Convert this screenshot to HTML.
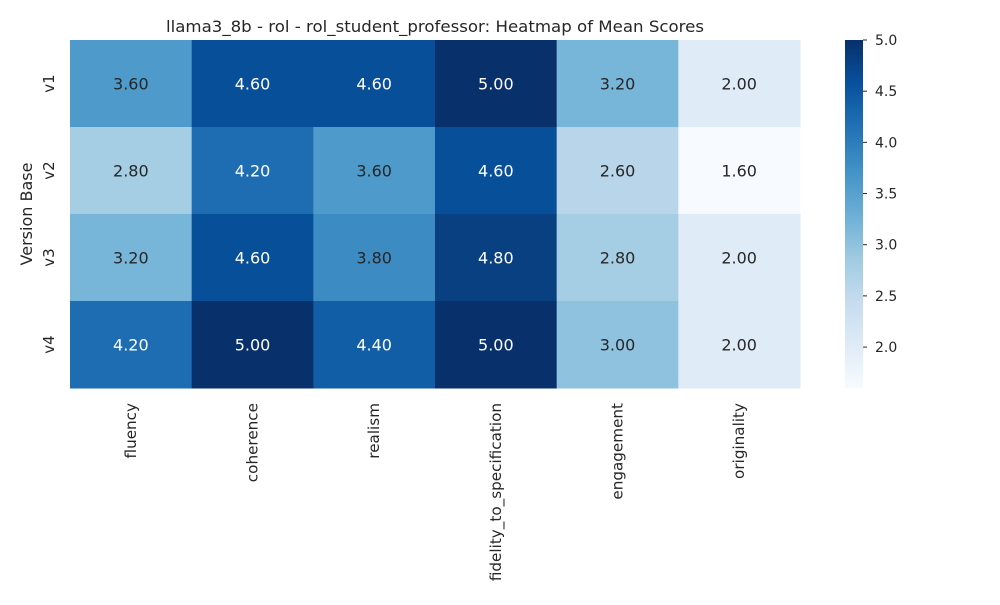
<!DOCTYPE html>
<html><head><meta charset="utf-8"><style>
body{margin:0;background:#fff;}
svg text{font-family:"DejaVu Sans","Liberation Sans",sans-serif;}
</style></head><body>
<svg id="chart" width="1000" height="600" xmlns="http://www.w3.org/2000/svg">
<defs><linearGradient id="cbg" x1="0" y1="1" x2="0" y2="0"></linearGradient></defs>
<text x="435" y="32" font-size="16" text-anchor="middle" fill="#262626" textLength="538" lengthAdjust="spacingAndGlyphs">llama3_8b - rol - rol_student_professor: Heatmap of Mean Scores</text>
<text transform="translate(32,214) rotate(-90)" font-size="16" text-anchor="middle" fill="#262626">Version Base</text>
<g id="cells"></g><g id="labels"></g><g id="cb"></g>
</svg>
<script>
const columns=["fluency","coherence","realism","fidelity_to_specification","engagement","originality"];
const rows=["v1","v2","v3","v4"];
const v1Values=[3.6,4.6,4.6,5.0,3.2,2.0];
const v2Values=[2.8,4.2,3.6,4.6,2.6,1.6];
const v3Values=[3.2,4.6,3.8,4.8,2.8,2.0];
const v4Values=[4.2,5.0,4.4,5.0,3.0,2.0];
const cbTicks=[2.0,2.5,3.0,3.5,4.0,4.5,5.0];
const values=[v1Values,v2Values,v3Values,v4Values];
const vmin=1.6,vmax=5.0;
const stops=["#f7fbff","#deebf7","#c6dbef","#9ecae1","#6baed6","#4292c6","#2171b5","#08519c","#08306b"];
function hex(h){return [1,3,5].map(i=>parseInt(h.substr(i,2),16));}
function cmap(v){let t=Math.max(0,Math.min(1,(v-vmin)/(vmax-vmin)))*8;let i=Math.min(7,Math.floor(t)),f=t-i;
const a=hex(stops[i]),b=hex(stops[i+1]);return a.map((c,k)=>Math.round(c+(b[k]-c)*f));}
const X0=70,X1=800,Y0=40,Y1=388;
const cw=(X1-X0)/columns.length,rh=(Y1-Y0)/rows.length;
const xS=i=>X0+i*cw,yS=j=>Y0+j*rh;
const NS="http://www.w3.org/2000/svg";
const cells=document.getElementById('cells'),labels=document.getElementById('labels'),cb=document.getElementById('cb');
function mk(t,a,p){const e=document.createElementNS(NS,t);for(const k in a)e.setAttribute(k,a[k]);p.appendChild(e);return e;}
rows.forEach((r,j)=>{columns.forEach((c,i)=>{const v=values[j][i];const col=cmap(v);
const rc=mk('rect',{x:xS(i),y:yS(j),width:cw+0.5,height:rh+0.5,fill:`rgb(${col})`},cells);


const lum=(0.2126*col[0]+0.7152*col[1]+0.0722*col[2])/255;
const t=mk('text',{x:xS(i)+cw/2,y:yS(j)+rh/2+6,'font-size':16,'text-anchor':'middle',fill:lum>0.408?'#262626':'#ffffff'},cells);
t.textContent=v.toFixed(2);

});
const yl=mk('text',{transform:`translate(54,${yS(j)+rh/2}) rotate(-90)`,'font-size':15,'text-anchor':'middle',fill:'#262626'},labels);
yl.textContent=r;

});
columns.forEach((c,i)=>{const xl=mk('text',{transform:`translate(${xS(i)+cw/2+5},403) rotate(-90)`,'font-size':15.2,'text-anchor':'end',fill:'#262626'},labels);
xl.textContent=c;

});
const g=document.getElementById('cbg');
stops.forEach((s,k)=>mk('stop',{offset:k/8,'stop-color':s},g));
const CX=845,CW=18;
const cr=mk('rect',{x:CX,y:Y0,width:CW,height:Y1-Y0,fill:'url(#cbg)'},cb);


const cy=v=>Y1-(v-vmin)/(vmax-vmin)*(Y1-Y0);
cbTicks.forEach(v=>{mk('line',{x1:CX+CW,x2:CX+CW+4,y1:cy(v),y2:cy(v),stroke:'#262626'},cb);
const t=mk('text',{x:CX+CW+12,y:cy(v)+5,'font-size':14,fill:'#262626'},cb);t.textContent=v.toFixed(1);

});
</script>
</body></html>
